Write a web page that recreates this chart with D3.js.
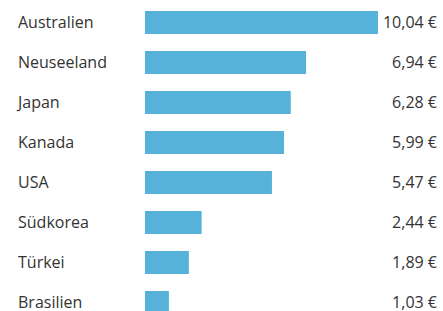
<html>
<script src="https://d3js.org/d3.v7.min.js"></script>
<style>
    body { margin: 0; background: #fff; }
    .label { font-family: "Open Sans", sans-serif; font-size: 16px; fill: #333; }
    .value { font-family: "Open Sans", sans-serif; font-size: 16px; fill: #333; }
</style>
<body>
<div id="chart"></div>
<script>
    var countries = ["Australien", "Neuseeland", "Japan", "Kanada", "USA", "Südkorea", "Türkei", "Brasilien"];
    var values = [10.04, 6.94, 6.28, 5.99, 5.47, 2.44, 1.89, 1.03];
    var valueLabels = ["10,04 €", "6,94 €", "6,28 €", "5,99 €", "5,47 €", "2,44 €", "1,89 €", "1,03 €"];

    var width = 443, height = 311;

    var svg = d3.select("#chart")
        .append("svg")
        .attr("width", width)
        .attr("height", height);

    var x = d3.scaleLinear()
        .domain([0, 10.04])
        .range([145, 378]);

    var y = d3.scaleBand()
        .domain(countries)
        .range([2.5, 322.5])
        .paddingInner(0.425)
        .paddingOuter(0.2125);

    var rows = countries.map(function (c, i) {
        return { name: c, value: values[i], label: valueLabels[i] };
    });

    svg.selectAll(".bar")
        .data(rows)
        .enter()
        .append("rect")
        .attr("class", "bar")
        .attr("x", x(0))
        .attr("y", function (d) { return y(d.name) })
        .attr("width", function (d) { return x(d.value) - x(0) })
        .attr("height", y.bandwidth())
        .attr("fill", "#56b2d8");

    svg.selectAll(".label")
        .data(rows)
        .enter()
        .append("text")
        .attr("class", "label")
        .attr("x", 18)
        .attr("y", function (d) { return y(d.name) + y.bandwidth() / 2 + 5 })
        .text(function (d) { return d.name });

    svg.selectAll(".value")
        .data(rows)
        .enter()
        .append("text")
        .attr("class", "value")
        .attr("x", 437)
        .attr("text-anchor", "end")
        .attr("y", function (d) { return y(d.name) + y.bandwidth() / 2 + 5 })
        .text(function (d) { return d.label });
</script>
</body>
</html>
